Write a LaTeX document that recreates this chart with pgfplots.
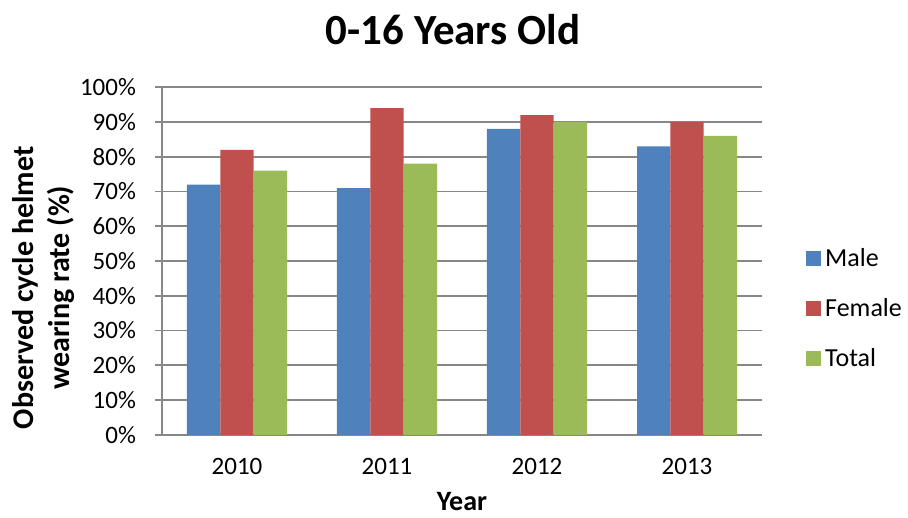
\documentclass[border=0pt]{standalone}
\usepackage{fontspec}
\setmainfont{Carlito}
\usepackage{pgfplots}
\pgfplotsset{compat=1.18}
\definecolor{male}{HTML}{4F81BD}
\definecolor{female}{HTML}{C0504D}
\definecolor{total}{HTML}{9BBB59}
\definecolor{gridgray}{HTML}{878787}

\begin{document}
\begin{tikzpicture}
\useasboundingbox (-81pt,-41.3pt) rectangle (373pt,217.4pt);
\begin{axis}[
  at={(0,0)}, anchor=south west,
  scale only axis, width=300pt, height=173.8pt,
  ybar=0pt, bar width=16.67pt,
  xmin=-0.5, xmax=3.5, ymin=0, ymax=100,
  axis x line*=bottom, axis y line*=left,
  axis line style={gridgray, line width=0.8pt, -},
  /pgf/number format/assume math mode=true,
  tick label style={font=\fontsize{12.5}{14}\selectfont},
  xtick={0,1,2,3}, xticklabels={2010,2011,2012,2013},
  major x tick style={draw=none},
  extra x ticks={-0.5,0.5,1.5,2.5,3.5},
  extra x tick labels={},
  extra x tick style={grid=none, tick align=outside, major tick length=4.5pt,
    major tick style={gridgray, line width=0.8pt}},
  xticklabel style={anchor=center, yshift=-12.5pt},
  ytick={0,10,...,100},
  yticklabel={\pgfmathprintnumber{\tick}\%},
  yticklabel style={anchor=east, xshift=-6pt},
  y tick style={gridgray, line width=0.8pt},
  tick align=outside, major tick length=3.5pt,
  ymajorgrids, grid style={gridgray, line width=0.8pt},
  xlabel={Year},
  xlabel style={at={(axis description cs:0.5,-0.193)}, anchor=center,
    inner sep=1pt, font=\bfseries\fontsize{14}{16}\selectfont},
  ylabel={Observed cycle helmet\\wearing rate (\%)},
  ylabel style={at={(axis description cs:-0.198,0.423)}, anchor=center,
    align=center, font=\bfseries\fontsize{15}{18}\selectfont},
  legend style={at={(1.063,0.3625)}, anchor=west, draw=none, fill=none,
    font=\fontsize{13}{15}\selectfont, row sep=10.5pt},
  legend cell align=left,
  legend image code/.code={\fill[#1,draw=none] (0pt,-3.75pt) rectangle (7.5pt,3.75pt);},
]
\addplot[fill=male, draw=none] coordinates {(0,72) (1,71) (2,88) (3,83)};
\addplot[fill=female, draw=none] coordinates {(0,82) (1,94) (2,92) (3,90)};
\addplot[fill=total, draw=none] coordinates {(0,76) (1,78) (2,90) (3,86)};
\legend{Male,Female,Total}
\end{axis}
\node[font=\bfseries\fontsize{21.5}{25}\selectfont] at (145.5pt,202.4pt) {0-16 Years Old};
\end{tikzpicture}
\end{document}
